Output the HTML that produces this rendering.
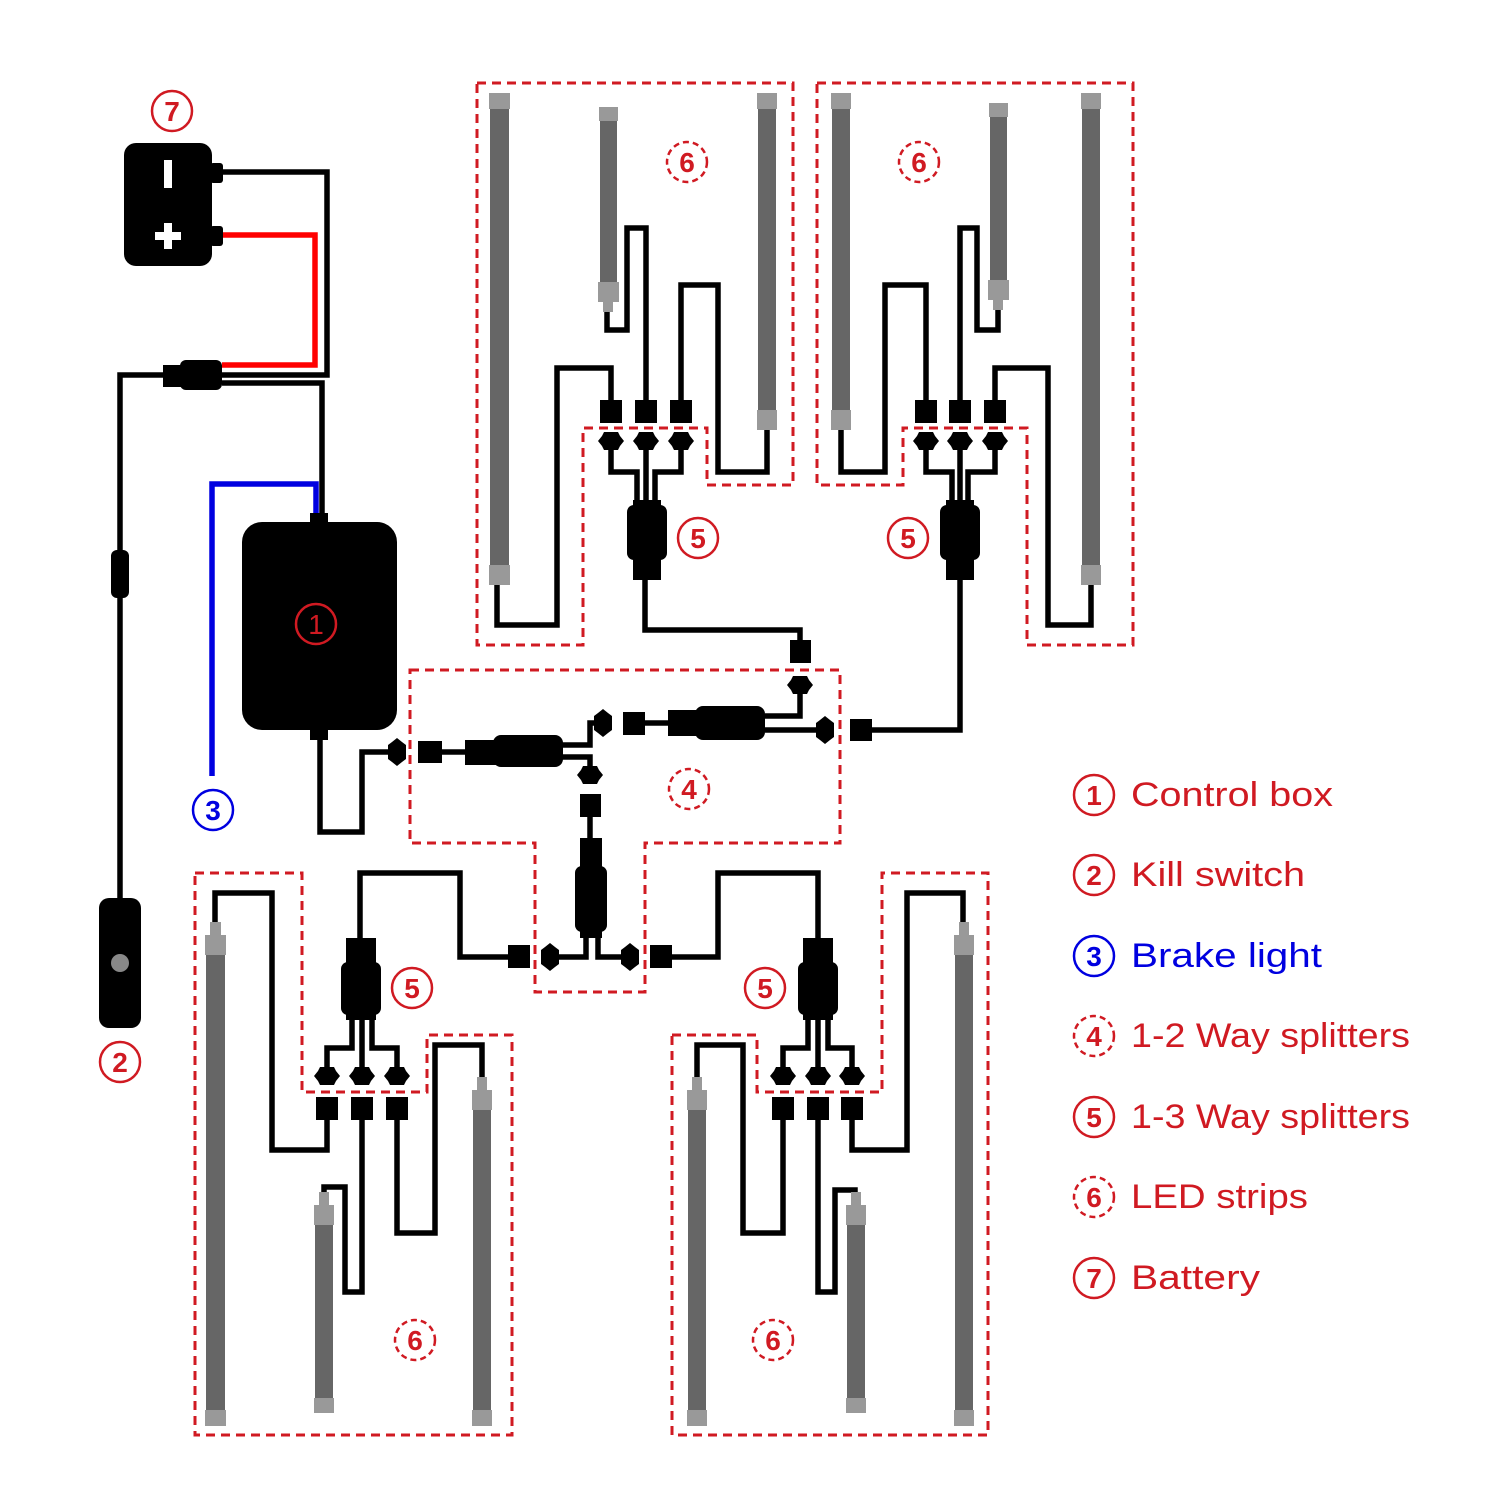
<!DOCTYPE html>
<html><head><meta charset="utf-8"><style>html,body{margin:0;padding:0;background:#fff}svg{display:block}</style></head><body>
<svg width="1500" height="1500" viewBox="0 0 1500 1500" xmlns="http://www.w3.org/2000/svg">
<defs>
<polygon id="sv" points="-13,0 -9,-5 -7,-9 7,-9 9,-5 13,0 9,5 7,9 -7,9 -9,5" fill="#000"/>
<polygon id="sh" points="0,-14 5,-10 9,-7 9,7 5,10 0,14 -5,10 -9,7 -9,-7 -5,-10" fill="#000"/>
</defs>
<rect width="1500" height="1500" fill="#fff"/>

<g fill="none" stroke="#d01a22" stroke-width="3" stroke-dasharray="9,6">
<polygon points="477,83 793,83 793,485 707,485 707,428 583,428 583,645 477,645"/>
<polygon points="817,83 1133,83 1133,645 1027,645 1027,428 903,428 903,485 817,485"/>
<polygon points="410,670 840,670 840,843 645,843 645,992 535,992 535,843 410,843"/>
<polygon points="195,873 302,873 302,1092 427,1092 427,1035 512,1035 512,1435 195,1435"/>
<polygon points="672,1035 757,1035 757,1092 882,1092 882,873 988,873 988,1435 672,1435"/>
</g>

<g fill="none" stroke="#000" stroke-width="5.5" stroke-linejoin="miter">
<polyline points="222,172 327,172 327,375 222,375"/>
<polyline points="222,383 322,383 322,520"/>
<polyline points="163,375 120,375 120,900"/>
<polyline points="320,740 320,832 362,832 362,752 395,752"/>
<polyline points="440,752 470,752"/>
<polyline points="560,745 590,745 590,723 600,723"/>
<polyline points="560,757 590,757 590,775"/>
<polyline points="590,815 590,840"/>
<polyline points="586,935 586,957 550,957"/>
<polyline points="598,935 598,957 630,957"/>
<polyline points="508,957 460,957 460,873 360,873 360,945"/>
<polyline points="672,957 718,957 718,873 818,873 818,945"/>
<polyline points="645,723 670,723"/>
<polyline points="765,716 800,716 800,685"/>
<polyline points="765,730 825,730"/>
<polyline points="800,640 800,630 645,630 645,578"/>
<polyline points="872,730 960,730 960,575"/>
<polyline points="611,405 611,368 557,368 557,625 497,625 497,585"/>
<polyline points="646,405 646,228 627,228 627,330 607,330 607,305"/>
<polyline points="681,405 681,285 718,285 718,472 767,472 767,430"/>
<polyline points="611,445 611,472 637,472 637,505"/>
<polyline points="646,445 646,505"/>
<polyline points="681,445 681,472 655,472 655,505"/>
<polyline points="926,405 926,285 885,285 885,472 841,472 841,430"/>
<polyline points="960,405 960,228 977,228 977,330 998,330 998,300"/>
<polyline points="995,405 995,368 1048,368 1048,625 1091,625 1091,585"/>
<polyline points="926,445 926,472 952,472 952,505"/>
<polyline points="960,445 960,505"/>
<polyline points="995,445 995,472 968,472 968,505"/>
<polyline points="327,1115 327,1150 272,1150 272,893 215,893 215,935"/>
<polyline points="362,1115 362,1292 345,1292 345,1187 324,1187 324,1205"/>
<polyline points="397,1115 397,1233 435,1233 435,1045 482,1045 482,1090"/>
<polyline points="327,1075 327,1048 352,1048 352,1015"/>
<polyline points="362,1075 362,1015"/>
<polyline points="397,1075 397,1048 372,1048 372,1015"/>
<polyline points="783,1115 783,1233 743,1233 743,1045 697,1045 697,1090"/>
<polyline points="818,1115 818,1292 835,1292 835,1190 855,1190 855,1205"/>
<polyline points="852,1115 852,1150 907,1150 907,893 963,893 963,935"/>
<polyline points="783,1075 783,1048 808,1048 808,1015"/>
<polyline points="818,1075 818,1015"/>
<polyline points="852,1075 852,1048 828,1048 828,1015"/>
</g>
<polyline points="222,235 315,235 315,365 222,365" fill="none" stroke="#f00" stroke-width="5.5"/>
<polyline points="316,515 316,484 212,484 212,776" fill="none" stroke="#0000e0" stroke-width="5.5"/>

<rect x="124" y="143" width="88" height="123" rx="12" fill="#000"/>
<rect x="210" y="163" width="13" height="20" rx="3" fill="#000"/>
<rect x="210" y="226" width="13" height="20" rx="3" fill="#000"/>
<rect x="164" y="160" width="8" height="28" fill="#fff"/>
<rect x="155" y="232" width="26" height="8" fill="#fff"/>
<rect x="164" y="223" width="8" height="26" fill="#fff"/>
<rect x="163" y="365" width="20" height="22" fill="#000"/>
<rect x="180" y="360" width="42" height="30" rx="6" fill="#000"/>
<rect x="111" y="550" width="18" height="48" rx="6" fill="#000"/>
<rect x="99" y="898" width="42" height="130" rx="10" fill="#000"/>
<circle cx="120" cy="963" r="9" fill="#888"/>
<rect x="242" y="522" width="155" height="208" rx="20" fill="#000"/>
<rect x="310" y="513" width="18" height="12" fill="#000"/>
<rect x="310" y="727" width="18" height="13" fill="#000"/>

<use href="#sh" x="397" y="752"/>
<rect x="418" y="741" width="24" height="22" fill="#000"/>
<rect x="465" y="740" width="35" height="25" fill="#000"/>
<rect x="493" y="735" width="70" height="32" rx="8" fill="#000"/>
<use href="#sh" x="603" y="723"/>
<use href="#sv" x="590" y="775"/>
<rect x="580" y="794" width="21" height="23" fill="#000"/>
<rect x="580" y="838" width="22" height="30" fill="#000"/>
<rect x="575" y="866" width="32" height="66" rx="7" fill="#000"/>
<rect x="580" y="928" width="22" height="10" fill="#000"/>
<use href="#sh" x="550" y="957"/>
<use href="#sh" x="630" y="957"/>
<rect x="508" y="945" width="22" height="23" fill="#000"/>
<rect x="650" y="945" width="22" height="23" fill="#000"/>
<rect x="623" y="712" width="22" height="23" fill="#000"/>
<rect x="668" y="710" width="35" height="26" fill="#000"/>
<rect x="695" y="706" width="70" height="34" rx="8" fill="#000"/>
<use href="#sv" x="800" y="685"/>
<use href="#sh" x="825" y="730"/>
<rect x="790" y="640" width="21" height="23" fill="#000"/>
<rect x="850" y="719" width="22" height="22" fill="#000"/>

<rect x="633" y="500" width="28" height="80" fill="#000"/>
<rect x="627" y="505" width="40" height="55" rx="7" fill="#000"/>
<use href="#sv" x="611" y="441"/><use href="#sv" x="646" y="441"/><use href="#sv" x="681" y="441"/>
<rect x="600" y="400" width="22" height="23" fill="#000"/><rect x="635" y="400" width="22" height="23" fill="#000"/><rect x="670" y="400" width="22" height="23" fill="#000"/>
<rect x="946" y="500" width="28" height="80" fill="#000"/>
<rect x="940" y="505" width="40" height="55" rx="7" fill="#000"/>
<use href="#sv" x="926" y="441"/><use href="#sv" x="960" y="441"/><use href="#sv" x="995" y="441"/>
<rect x="915" y="400" width="22" height="23" fill="#000"/><rect x="949" y="400" width="22" height="23" fill="#000"/><rect x="984" y="400" width="22" height="23" fill="#000"/>
<rect x="346" y="938" width="30" height="82" fill="#000"/>
<rect x="341" y="962" width="40" height="53" rx="7" fill="#000"/>
<use href="#sv" x="327" y="1076"/><use href="#sv" x="362" y="1076"/><use href="#sv" x="397" y="1076"/>
<rect x="316" y="1097" width="22" height="23" fill="#000"/><rect x="351" y="1097" width="22" height="23" fill="#000"/><rect x="386" y="1097" width="22" height="23" fill="#000"/>
<rect x="803" y="938" width="30" height="82" fill="#000"/>
<rect x="798" y="962" width="40" height="53" rx="7" fill="#000"/>
<use href="#sv" x="783" y="1076"/><use href="#sv" x="818" y="1076"/><use href="#sv" x="852" y="1076"/>
<rect x="772" y="1097" width="22" height="23" fill="#000"/><rect x="807" y="1097" width="22" height="23" fill="#000"/><rect x="841" y="1097" width="22" height="23" fill="#000"/>

<g>
<rect x="490" y="93" width="19" height="490" fill="#666"/><rect x="489" y="93" width="21" height="16" fill="#999"/><rect x="489" y="565" width="21" height="20" fill="#999"/>
<rect x="600" y="107" width="17" height="195" fill="#666"/><rect x="599" y="107" width="19" height="14" fill="#999"/><rect x="598" y="282" width="21" height="20" fill="#999"/><rect x="603" y="300" width="10" height="12" fill="#999"/>
<rect x="758" y="93" width="18" height="335" fill="#666"/><rect x="757" y="93" width="20" height="16" fill="#999"/><rect x="757" y="410" width="20" height="20" fill="#999"/>
<rect x="832" y="93" width="18" height="335" fill="#666"/><rect x="831" y="93" width="20" height="16" fill="#999"/><rect x="831" y="410" width="20" height="20" fill="#999"/>
<rect x="990" y="103" width="17" height="195" fill="#666"/><rect x="989" y="103" width="19" height="14" fill="#999"/><rect x="988" y="280" width="21" height="20" fill="#999"/><rect x="993" y="298" width="10" height="12" fill="#999"/>
<rect x="1082" y="93" width="18" height="490" fill="#666"/><rect x="1081" y="93" width="20" height="16" fill="#999"/><rect x="1081" y="565" width="20" height="20" fill="#999"/>
<rect x="206" y="935" width="19" height="490" fill="#666"/><rect x="210" y="922" width="11" height="14" fill="#999"/><rect x="205" y="935" width="21" height="20" fill="#999"/><rect x="205" y="1410" width="21" height="16" fill="#999"/>
<rect x="315" y="1205" width="18" height="207" fill="#666"/><rect x="319" y="1192" width="10" height="14" fill="#999"/><rect x="314" y="1205" width="20" height="20" fill="#999"/><rect x="314" y="1398" width="20" height="15" fill="#999"/>
<rect x="473" y="1090" width="18" height="335" fill="#666"/><rect x="477" y="1077" width="10" height="14" fill="#999"/><rect x="472" y="1090" width="20" height="20" fill="#999"/><rect x="472" y="1410" width="20" height="16" fill="#999"/>
<rect x="688" y="1090" width="18" height="335" fill="#666"/><rect x="692" y="1077" width="10" height="14" fill="#999"/><rect x="687" y="1090" width="20" height="20" fill="#999"/><rect x="687" y="1410" width="20" height="16" fill="#999"/>
<rect x="847" y="1205" width="18" height="207" fill="#666"/><rect x="851" y="1192" width="10" height="14" fill="#999"/><rect x="846" y="1205" width="20" height="20" fill="#999"/><rect x="846" y="1398" width="20" height="15" fill="#999"/>
<rect x="955" y="935" width="18" height="490" fill="#666"/><rect x="959" y="922" width="10" height="14" fill="#999"/><rect x="954" y="935" width="20" height="20" fill="#999"/><rect x="954" y="1410" width="20" height="16" fill="#999"/>
</g>

<g font-family="Liberation Sans, sans-serif" font-weight="bold" font-size="28" text-anchor="middle" fill="#d01a22">
<g fill="none" stroke="#d01a22" stroke-width="2.5">
<circle cx="172" cy="111" r="20"/><circle cx="120" cy="1062" r="20"/><circle cx="316" cy="624" r="20"/>
<circle cx="698" cy="538" r="20"/><circle cx="908" cy="538" r="20"/><circle cx="412" cy="988" r="20"/><circle cx="765" cy="988" r="20"/>
<g stroke-dasharray="6,4"><circle cx="687" cy="162" r="20"/><circle cx="919" cy="162" r="20"/><circle cx="689" cy="789" r="20"/><circle cx="415" cy="1340" r="20"/><circle cx="773" cy="1340" r="20"/></g>
<circle cx="213" cy="810" r="20" stroke="#0000e0"/>
</g>
<text x="172" y="121">7</text><text x="120" y="1072">2</text><text x="316" y="634" font-weight="normal">1</text>
<text x="698" y="548">5</text><text x="908" y="548">5</text><text x="412" y="998">5</text><text x="765" y="998">5</text>
<text x="687" y="172">6</text><text x="919" y="172">6</text><text x="689" y="799">4</text><text x="415" y="1350">6</text><text x="773" y="1350">6</text>
<text x="213" y="820" fill="#0000e0">3</text>
</g>

<g font-family="Liberation Sans, sans-serif" fill="#d01a22">
<g fill="none" stroke="#d01a22" stroke-width="2.5">
<circle cx="1094" cy="795" r="20"/><circle cx="1094" cy="875" r="20"/><circle cx="1094" cy="1117" r="20"/><circle cx="1094" cy="1278" r="20"/>
<g stroke-dasharray="6,4"><circle cx="1094" cy="1036" r="20"/><circle cx="1094" cy="1197" r="20"/></g>
<circle cx="1094" cy="956" r="20" stroke="#0000e0"/>
</g>
<g font-size="28" font-weight="bold" text-anchor="middle">
<text x="1094" y="805">1</text><text x="1094" y="885">2</text><text x="1094" y="966" fill="#0000e0">3</text><text x="1094" y="1046">4</text><text x="1094" y="1127">5</text><text x="1094" y="1207">6</text><text x="1094" y="1288">7</text>
</g>
<g font-size="34">
<text x="1131" y="806" textLength="202" lengthAdjust="spacingAndGlyphs">Control box</text>
<text x="1131" y="886" textLength="174" lengthAdjust="spacingAndGlyphs">Kill switch</text>
<text x="1131" y="967" textLength="191" lengthAdjust="spacingAndGlyphs" fill="#0000e0">Brake light</text>
<text x="1131" y="1047" textLength="279" lengthAdjust="spacingAndGlyphs">1-2 Way splitters</text>
<text x="1131" y="1128" textLength="279" lengthAdjust="spacingAndGlyphs">1-3 Way splitters</text>
<text x="1131" y="1208" textLength="177" lengthAdjust="spacingAndGlyphs">LED strips</text>
<text x="1131" y="1289" textLength="129" lengthAdjust="spacingAndGlyphs">Battery</text>
</g>
</g>
</svg>
</body></html>
